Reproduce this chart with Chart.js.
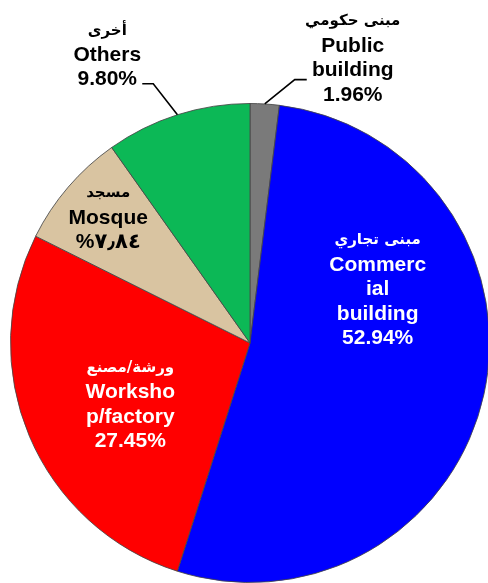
<!DOCTYPE html>
<html>
<head>
<meta charset="utf-8">
<script src="https://cdn.jsdelivr.net/npm/chart.js@4/dist/chart.umd.min.js"></script>
<style>
  html, body { margin: 0; padding: 0; background: #fff; overflow: hidden; }
  #wrap { position: relative; width: 492px; height: 583px; }
</style>
</head>
<body>
<div id="wrap"><canvas id="c"></canvas></div>
<script>
// ---- data ----
const categoriesEn = ['Public building', 'Commercial building', 'Workshop/factory', 'Mosque', 'Others'];
const categoriesAr = ['مبنى حكومي', 'مبنى تجاري', 'ورشة/مصنع', 'مسجد', 'أخرى'];
const values = [1.96, 52.94, 27.45, 7.84, 9.80];
const valueLabels = ['1.96%', '52.94%', '27.45%', '%٧٫٨٤', '9.80%'];
const wrappedEn = [['Public', 'building'], ['Commerc', 'ial', 'building'], ['Worksho', 'p/factory'], ['Mosque'], ['Others']];
const sliceColors = ['#7a7a7a', '#0000ff', '#ff0000', '#d9c4a1', '#0cb856'];
const textColors = ['#000000', '#ffffff', '#ffffff', '#000000', '#000000'];

// label placement (in units of radius, relative to pie centre)
const labelPlace = [
  { dx: 0.429, dy: -1.342, leader: 'public' },
  { dx: 0.533, dy: -0.429 },
  { dx: -0.50, dy: 0.104 },
  { dx: -0.592, dy: -0.625 },
  { dx: -0.596, dy: -1.304, leader: 'others' }
];

const labelPlugin = {
  id: 'sliceLabels',
  afterDatasetsDraw(chart) {
    const ctx = chart.ctx;
    const meta = chart.getDatasetMeta(0);
    const lineH = 24.5;
    meta.data.forEach((arc, i) => {
      const cx = arc.x, cy = arc.y, r = arc.outerRadius;
      const p = labelPlace[i];
      const x = cx + p.dx * r;
      const y0 = cy + p.dy * r;
      const lines = [categoriesAr[i]].concat(wrappedEn[i], [valueLabels[i]]);
      ctx.save();
      ctx.fillStyle = textColors[i];
      ctx.textAlign = 'center';
      ctx.textBaseline = 'middle';
      lines.forEach((t, k) => {
        if (k === 0) {
          ctx.font = "bold 15px 'DejaVu Sans', sans-serif";
          ctx.direction = 'rtl';
        } else {
          ctx.font = "bold 21px 'Liberation Sans', Arial, 'DejaVu Sans', sans-serif";
          ctx.direction = 'ltr';
        }
        ctx.fillText(t, x, y0 + k * lineH);
      });
      // leader lines
      if (p.leader) {
        const mid = (arc.startAngle + arc.endAngle) / 2;
        const ex = cx + Math.cos(mid) * r;
        const ey = cy + Math.sin(mid) * r;
        ctx.strokeStyle = '#000';
        ctx.lineWidth = 1.6;
        ctx.beginPath();
        if (p.leader === 'public') {
          ctx.moveTo(ex, ey);
          ctx.lineTo(x - 58, y0 + 58);
          ctx.lineTo(x - 46, y0 + 58);
        } else {
          ctx.moveTo(x + 35, y0 + 53);
          ctx.lineTo(x + 46, y0 + 53);
          ctx.lineTo(ex, ey);
        }
        ctx.stroke();
      }
      ctx.restore();
    });
  }
};

new Chart(document.getElementById('c'), {
  type: 'pie',
  data: {
    labels: categoriesEn,
    datasets: [{
      data: values,
      backgroundColor: sliceColors,
      borderColor: 'rgba(70,70,70,0.85)',
      borderWidth: 1
    }]
  },
  options: {
    responsive: true,
    maintainAspectRatio: false,
    animation: false,
    layout: { padding: { left: 10, right: 2, top: 103, bottom: 0 } },
    plugins: {
      legend: { display: false },
      tooltip: { enabled: false },
      title: { display: false }
    }
  },
  plugins: [labelPlugin]
});
</script>
</body>
</html>
